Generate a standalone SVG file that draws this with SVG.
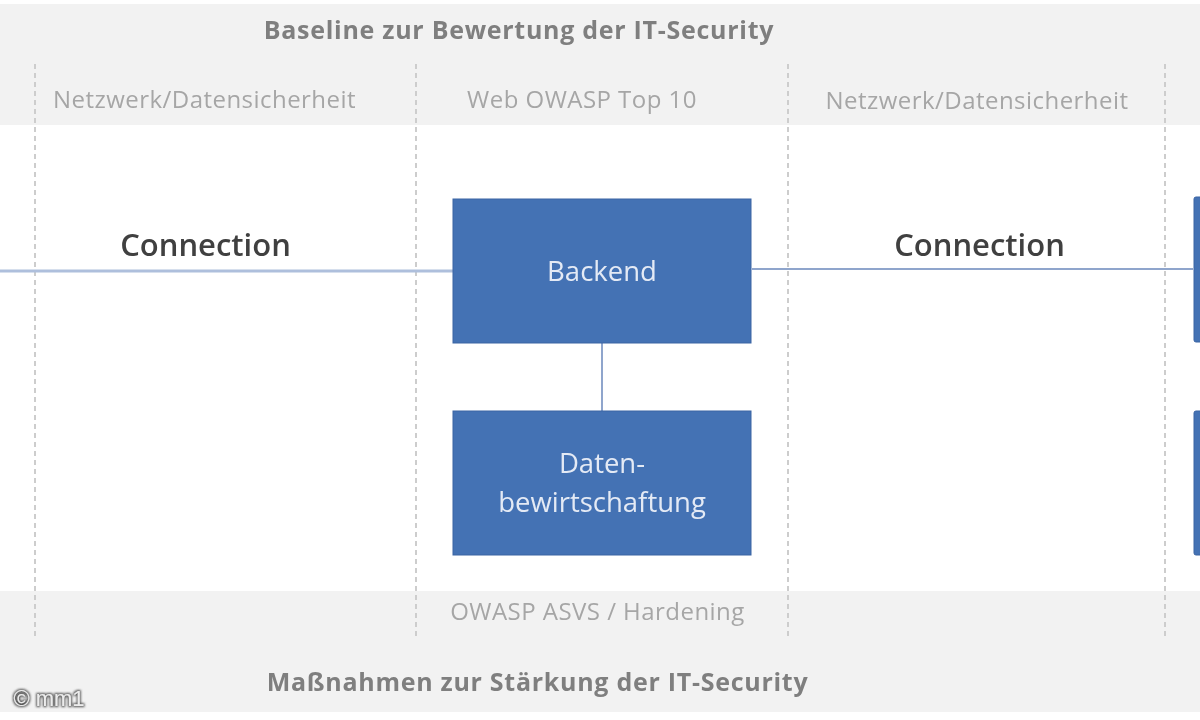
<svg xmlns="http://www.w3.org/2000/svg" width="1200" height="720" viewBox="0 0 1200 720">
<defs>
<filter id="soft" x="-5%" y="-5%" width="110%" height="110%"><feGaussianBlur stdDeviation="0.6"/></filter>
<filter id="halo" x="-20%" y="-40%" width="140%" height="180%"><feMorphology in="SourceAlpha" operator="dilate" radius="1.2" result="d"/><feGaussianBlur in="d" stdDeviation="1.2" result="b"/><feFlood flood-color="#555555"/><feComposite in2="b" operator="in" result="s"/><feMerge><feMergeNode in="s"/><feMergeNode in="SourceGraphic"/></feMerge></filter>
</defs>
<style>
text{font-family:"Open Sans","Noto Sans","Liberation Sans",sans-serif;text-anchor:middle}
.band{fill:#f2f2f2}
.head{font-size:25px;font-weight:700;fill:#7f7f7f;letter-spacing:.72px}
.sub{font-size:24px;fill:#a6a6a6;letter-spacing:.46px}
.conn{font-size:31px;font-weight:600;fill:#404040}
.box{fill:#4472b4;stroke:#3a64a3;stroke-width:1}
.lbl{font-size:27.5px;fill:#e4eaf5}
.guide{stroke:#cdcdcd;stroke-width:2;stroke-dasharray:5 4;fill:none}
.link{stroke:#aebfdc;stroke-width:3;fill:none}
.link2{stroke:#8fa5cc;stroke-width:2;fill:none}
</style>
<rect width="1200" height="720" fill="#ffffff"/>
<g id="bands">
<rect class="band" x="0" y="4" width="1200" height="121"/>
<rect class="band" x="0" y="591" width="1200" height="121"/>
</g>
<g id="guides" filter="url(#soft)">
<path class="guide" d="M35 64V638M416 64V638M788 64V638M1165 64V638"/>
</g>
<g id="connectors" filter="url(#soft)">
<path class="link" d="M0 271H453"/>
<path class="link2" d="M752 269H1193"/>
<path class="link2" d="M602 343V411"/>
</g>
<g id="backend">
<rect class="box" x="453" y="199" width="298" height="144"/>
<text class="lbl" x="602" y="281" filter="url(#soft)">Backend</text>
</g>
<g id="daten">
<rect class="box" x="453" y="411" width="298" height="144"/>
<text class="lbl" x="602" y="473" filter="url(#soft)">Daten-</text>
<text class="lbl" x="602" y="512" filter="url(#soft)">bewirtschaftung</text>
</g>
<g id="right-top"><rect class="box" x="1194" y="197" width="10" height="145" rx="2"/></g>
<g id="right-bottom"><rect class="box" x="1194" y="411" width="10" height="144" rx="2"/></g>
<g id="labels" filter="url(#soft)">
<text class="head" x="519" y="39">Baseline zur Bewertung der IT-Security</text>
<text class="sub" x="204.5" y="108">Netzwerk/Datensicherheit</text>
<text class="sub" x="582" y="108">Web OWASP Top 10</text>
<text class="sub" x="977" y="109">Netzwerk/Datensicherheit</text>
<text class="conn" x="205.5" y="256">Connection</text>
<text class="conn" x="979.5" y="256">Connection</text>
<text class="sub" x="597.5" y="620">OWASP ASVS / Hardening</text>
<text class="head" x="537.5" y="691">Maßnahmen zur Stärkung der IT-Security</text>
</g>
<text x="49" y="706" filter="url(#halo)" style="font-family:'Liberation Sans',sans-serif;font-size:22px;fill:#ececec">© mm1</text>
</svg>
